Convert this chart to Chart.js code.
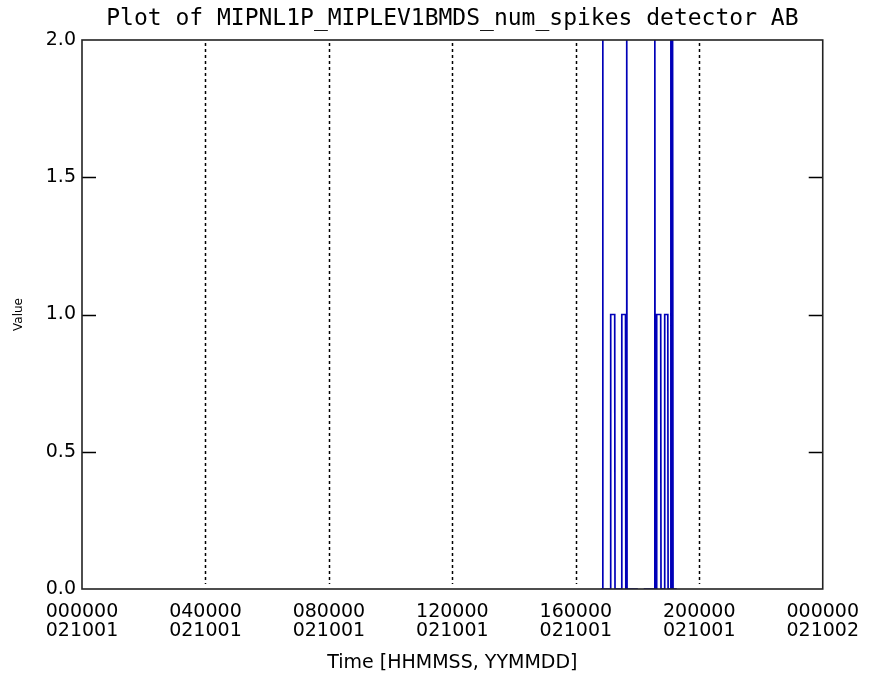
<!DOCTYPE html>
<html>
<head>
<meta charset="utf-8">
<script src="https://cdn.jsdelivr.net/npm/chart.js@4.4.1/dist/chart.umd.min.js"></script>
<style>
  html, body { margin: 0; padding: 0; background: #fff; }
  #wrap { width: 873px; height: 687px; }
</style>
</head>
<body>
<div id="wrap"><canvas id="spikesChart" width="873" height="687"></canvas></div>
<script>
// hours since 000000 021001
const sampleHours = [16.81, 16.86, 16.87, 16.88,
  17.12, 17.13, 17.26, 17.27,
  17.48, 17.49, 17.61, 17.62, 17.64, 17.65, 17.66,
  18.01, 18.10,
  18.20, 18.55, 18.56, 18.57,
  18.61, 18.62, 18.75, 18.76,
  18.87, 18.88, 18.98, 18.99,
  19.07, 19.08, 19.09, 19.10, 19.11, 19.12, 19.13, 19.14, 19.15,
  19.27];
const spikeCounts = [0, 0, 2, 0,
  0, 1, 1, 0,
  0, 1, 1, 0, 0, 2, 0,
  0, null,
  0, 0, 2, 0,
  0, 1, 1, 0,
  0, 1, 1, 0,
  0, 2, 0, 2, 0, 2, 0, 2, 0,
  0];

const plotTitle = 'Plot of MIPNL1P_MIPLEV1BMDS_num_spikes detector AB';
const tickHours = [0, 4, 8, 12, 16, 20, 24];
const timeLabels = ['000000', '040000', '080000', '120000', '160000', '200000', '000000'];
const dateLabels = ['021001', '021001', '021001', '021001', '021001', '021001', '021002'];
const gridHours = [4, 8, 12, 16, 20];
const yTicks = [0.5, 1.0, 1.5];

const points = sampleHours.map((h, i) => ({ x: h, y: spikeCounts[i] }));

// box, dotted time grid, inward ticks and title centred over the plot, like IDL
const idlFrame = {
  id: 'idlFrame',
  afterDatasetsDraw(chart) {
    const ctx = chart.ctx;
    const area = chart.chartArea;
    const xs = chart.scales.x;
    const ys = chart.scales.y;
    ctx.save();
    ctx.strokeStyle = '#000';
    ctx.lineWidth = 1.5;
    ctx.setLineDash([3, 3]);
    gridHours.forEach(h => {
      const px = Math.round(xs.getPixelForValue(h)) + 0.5;
      ctx.beginPath();
      ctx.moveTo(px, area.top + 3);
      ctx.lineTo(px, area.bottom - 5);
      ctx.stroke();
    });
    ctx.setLineDash([]);
    ctx.lineWidth = 1.3;
    yTicks.forEach(v => {
      const py = Math.round(ys.getPixelForValue(v)) + 0.5;
      ctx.beginPath();
      ctx.moveTo(area.left, py);
      ctx.lineTo(area.left + 14, py);
      ctx.moveTo(area.right, py);
      ctx.lineTo(area.right - 14, py);
      ctx.stroke();
    });
    ctx.strokeStyle = '#222';
    ctx.lineWidth = 1.6;
    ctx.strokeRect(area.left, area.top, area.right - area.left, area.bottom - area.top);

    ctx.fillStyle = '#000';
    ctx.font = '23px "DejaVu Sans Mono"';
    ctx.textAlign = 'center';
    ctx.textBaseline = 'middle';
    ctx.fillText(plotTitle, (area.left + area.right) / 2, 19);
    ctx.restore();
  }
};

const ctx = document.getElementById('spikesChart').getContext('2d');
new Chart(ctx, {
  type: 'line',
  data: {
    datasets: [{
      label: 'num_spikes',
      data: points,
      borderColor: '#0000b8',
      borderWidth: 1.7,
      pointRadius: 0,
      spanGaps: false,
      tension: 0
    }]
  },
  options: {
    responsive: false,
    animation: false,
    devicePixelRatio: 1,
    layout: { padding: { left: 0, right: 50, top: 40, bottom: 0 } },
    plugins: {
      legend: { display: false },
      tooltip: { enabled: false },
      title: { display: false }
    },
    scales: {
      x: {
        type: 'linear',
        min: 0,
        max: 24,
        afterBuildTicks: (scale) => { scale.ticks = tickHours.map(v => ({ value: v })); },
        afterFit: (scale) => { scale.height = 98; },
        grid: { display: false, drawTicks: false },
        border: { display: false },
        ticks: {
          autoSkip: false,
          maxRotation: 0,
          minRotation: 0,
          padding: 14,
          color: '#000',
          font: { family: 'DejaVu Sans', size: 19, lineHeight: 1.0 },
          callback: (value, index) => [timeLabels[index], dateLabels[index]]
        },
        title: {
          display: true,
          text: 'Time [HHMMSS, YYMMDD]',
          color: '#000',
          font: { family: 'DejaVu Sans', size: 19 },
          padding: { top: 13, bottom: 13 }
        }
      },
      y: {
        min: 0,
        max: 2,
        afterFit: (scale) => { scale.width = 82; },
        grid: { display: false, drawTicks: false },
        border: { display: false },
        ticks: {
          stepSize: 0.5,
          padding: 6,
          color: '#000',
          font: { family: 'DejaVu Sans', size: 19 },
          callback: (value) => value.toFixed(1)
        },
        title: {
          display: true,
          text: 'Value',
          color: '#000',
          font: { family: 'DejaVu Sans', size: 12 },
          padding: { top: 12, bottom: 0 }
        }
      }
    }
  },
  plugins: [idlFrame]
});
</script>
</body>
</html>
